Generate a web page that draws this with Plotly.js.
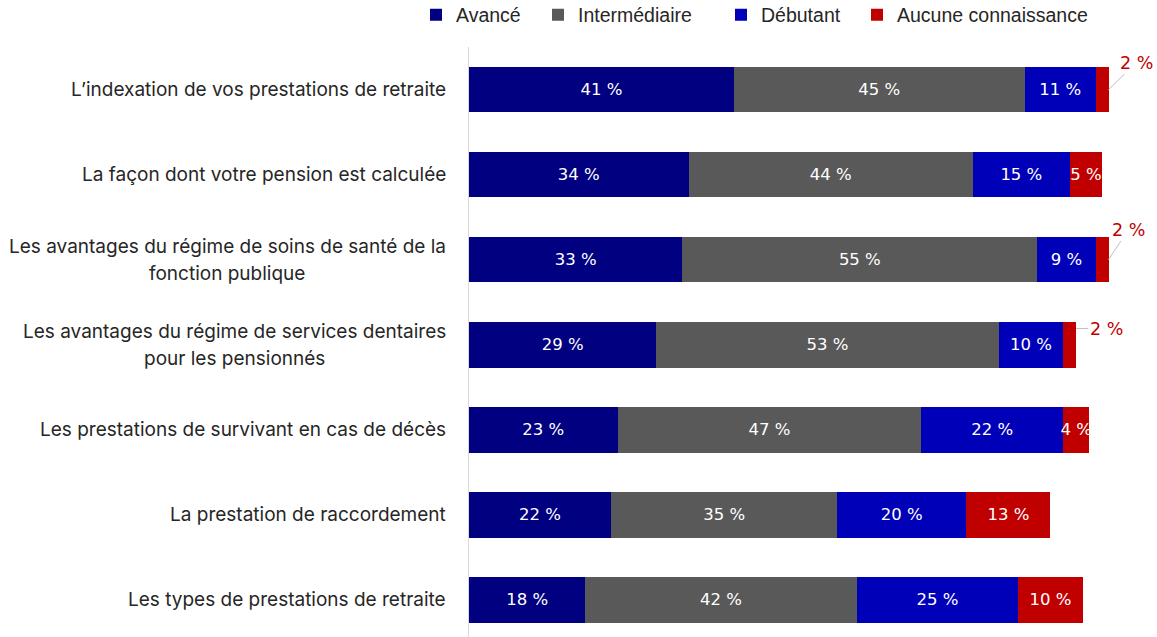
<!DOCTYPE html>
<html>
<head>
<meta charset="utf-8">
<script src="https://cdn.plot.ly/plotly-3.0.1.min.js"></script>
<style>html,body{margin:0;padding:0;background:#fff;}#chart{width:1157px;height:637px;}</style>
</head>
<body>
<div id="chart"></div>
<script>
const categories = [
  "L’indexation de vos prestations de retraite",
  "La façon dont votre pension est calculée",
  "Les avantages du régime de soins de santé de la\nfonction publique",
  "Les avantages du régime de services dentaires\npour les pensionnés",
  "Les prestations de survivant en cas de décès",
  "La prestation de raccordement",
  "Les types de prestations de retraite"
];
const seriesNames = ["Avancé", "Intermédiaire", "Débutant", "Aucune connaissance"];
const avance        = [41, 34, 33, 29, 23, 22, 18];
const intermediaire = [45, 44, 55, 53, 47, 35, 42];
const debutant      = [11, 15, 9, 10, 22, 20, 25];
const aucune        = [2, 5, 2, 2, 4, 13, 10];
const colors = ["#000080", "#595959", "#0000B8", "#C00000"];

const allSeries = [avance, intermediaire, debutant, aucune];
const catIdx = categories.map((c, i) => i);
const legendIds = ["legend", "legend2", "legend3", "legend4"];

const traces = allSeries.map((vals, s) => ({
  type: "bar",
  orientation: "h",
  name: seriesNames[s],
  legend: legendIds[s],
  x: vals,
  y: catIdx,
  width: 0.54,
  marker: {color: colors[s], line: {width: 0}},
  text: vals.map(v => v > 2 ? v + " %" : ""),
  textposition: "inside",
  insidetextanchor: "middle",
  textangle: 0,
  constraintext: "none",
  textfont: {color: "#ffffff", size: 16.5, family: "DejaVu Sans, sans-serif"},
  hoverinfo: "skip",
  cliponaxis: false
}));

const annotations = [];
categories.forEach((c, i) => {
  const lines = c.split("\n");
  const n = lines.length;
  lines.forEach((ln, k) => {
    annotations.push({
      xref: "paper", yref: "y", x: 0, y: i,
      xanchor: "center", yanchor: "middle",
      xshift: 0,
      text: ln, showarrow: false,
      font: {family: "Inter, sans-serif", size: 19, color: "#262626"},
      yshift: -((k - (n - 1) / 2) * 27)
    });
  });
});
const totals = catIdx.map(i => avance[i] + intermediaire[i] + debutant[i] + aucune[i]);
const smallOffsets = {0: {ax: 28, ay: -27, ys: 0}, 2: {ax: 20, ay: -30, ys: 0}, 3: {ax: 30, ay: 0, ys: 16}};
Object.keys(smallOffsets).forEach(k => {
  const i = +k, o = smallOffsets[k];
  annotations.push({
    x: totals[i], y: i, xref: "x", yref: "y",
    text: aucune[i] + " %",
    showarrow: true, arrowhead: 0, arrowwidth: 1, arrowcolor: "#bfbfbf",
    standoff: 0, startstandoff: 0,
    ax: o.ax, ay: o.ay, yshift: o.ys,
    font: {family: "DejaVu Sans, sans-serif", size: 17.5, color: "#C00000"}
  });
});

const plotL = 469, plotW = 646;
const legendLeftPx = [416, 538, 721, 857];
const legendBase = {
  orientation: "h", xanchor: "left", y: 1.021, yanchor: "bottom",
  font: {family: "Liberation Sans, Arial, sans-serif", size: 19.5, color: "#262626"},
  itemclick: false, bgcolor: "rgba(0,0,0,0)"
};

const layout = {
  width: 1157, height: 637,
  margin: {l: plotL, r: 1157 - plotL - plotW, t: 47, b: 0, autoexpand: false},
  paper_bgcolor: "#ffffff", plot_bgcolor: "#ffffff",
  barmode: "stack",
  showlegend: true,
  xaxis: {range: [0, 100], showgrid: false, zeroline: false, showticklabels: false, showline: false, fixedrange: true},
  yaxis: {range: [6.44, -0.5], showgrid: false, zeroline: false, showticklabels: false,
          tickvals: catIdx, showline: true, linecolor: "#d9d9d9", linewidth: 1, fixedrange: true},
  annotations: annotations,
  font: {family: "Inter, sans-serif"}
};
legendIds.forEach((id, s) => {
  layout[id] = Object.assign({}, legendBase, {x: (legendLeftPx[s] - plotL) / plotW});
});

Plotly.newPlot("chart", traces, layout, {displayModeBar: false, staticPlot: true}).then(gd => {
  const plotLeft = gd._fullLayout._size.l;
  const newAnn = layout.annotations.slice();
  const nodes = gd.querySelectorAll(".annotation");
  const widths = [];
  nodes.forEach(nd => { const t = nd.querySelector("text"); widths.push(t ? t.getBBox().width : 0); });
  let j = 0;
  const rightEdge = 446;
  categories.forEach((c, i) => {
    const lines = c.split("\n");
    const ws = lines.map((_, k) => widths[j + k]);
    const maxW = Math.max.apply(null, ws);
    const center = rightEdge - maxW / 2;
    lines.forEach((_, k) => { newAnn[j + k] = Object.assign({}, newAnn[j + k], {xshift: center - plotLeft}); });
    j += lines.length;
  });
  Plotly.relayout(gd, {annotations: newAnn});
});
</script>
</body>
</html>
